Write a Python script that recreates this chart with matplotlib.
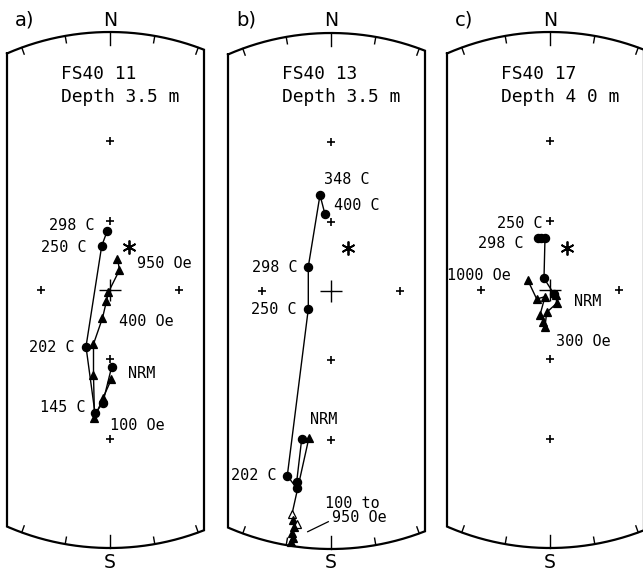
import numpy as np
import matplotlib
matplotlib.use("Agg")
import matplotlib.pyplot as plt

W, H = 643, 575
R = 258.0          # radius of the primitive circle (stereonet units = px)
STRIP = (-103, 94) # visible strip of the net

panel_letters = ["a)", "b)", "c)"]
site_names = ["FS40 11", "FS40 13", "FS40 17"]
depth_texts = ["Depth 3.5 m", "Depth 3.5 m", "Depth 4 0 m"]
centers_x = [110, 331, 550]
centers_y = [290, 291, 290]

# ---- panel a (stereonet east / north coordinates) ----
a_th_x = [1.7, -7.3, -15, -24, -8.3, -2.7]
a_th_y = [-76.7, -113.3, -123.3, -56.7, 44, 59.3]
a_af_x = [1.5, -7, -15.5, -16.5, -16.5, -7.5, -3.5, -1.5, 9.5, 7.5]
a_af_y = [-89, -108, -128, -85, -54, -28, -11, -2, 20, 31.5]
a_af_fill = [1] * 10
a_labels = ["298 C", "250 C", "950 Oe", "400 Oe", "202 C", "NRM", "145 C", "100 Oe"]
a_lab_x = [-15, -23, 27, 9, -35, 18, -24, 0]
a_lab_y = [65, 42, 27, -32, -57, -83, -117, -136]
a_lab_ha = ["right", "right", "left", "left", "right", "left", "right", "left"]

# ---- panel b ----
b_th_x = [-29.3, -34.3, -34.3, -43.7, -22.7, -22.7, -11, -6]
b_th_y = [-148, -190.7, -197.3, -184.7, -18, 24.3, 96, 76.7]
b_af_x = [-22, -39, -38, -34, -37, -39, -38, -40]
b_af_y = [-146.5, -223, -229, -233, -236, -242, -247, -251]
b_af_fill = [1, 0, 1, 0, 1, 1, 1, 1]
b_labels = ["348 C", "400 C", "298 C", "250 C", "NRM", "202 C", "100 to", "950 Oe"]
b_lab_x = [-7, 3, -33, -34, -21, -54, -6, 1]
b_lab_y = [111, 86, 24, -19, -128, -184, -212, -227]
b_lab_ha = ["left", "left", "right", "right", "left", "right", "left", "left"]

# ---- panel c ----
c_th_x = [4, -6, -5, -9, -12]
c_th_y = [-4, 11.7, 52.5, 52.5, 52.5]
c_af_x = [6, 6.7, -3.3, -5, -6.7, -10, -5, -13.3, -22.3]
c_af_y = [-5, -13.3, -22.3, -36.7, -31.7, -25, -6.7, -9, 10]
c_af_fill = [1] * 9
c_labels = ["250 C", "298 C", "1000 Oe", "NRM", "300 Oe"]
c_lab_x = [-7, -26, -39, 24, 6]
c_lab_y = [67, 47, 14, -11, -52]
c_lab_ha = ["right", "right", "right", "left", "left"]

# expected (dipole) direction, stereonet coordinates
star_x = [19, 17, 17]
star_y = [43, 43, 42]

panels = [
    (a_th_x, a_th_y, a_af_x, a_af_y, a_af_fill, a_labels, a_lab_x, a_lab_y, a_lab_ha),
    (b_th_x, b_th_y, b_af_x, b_af_y, b_af_fill, b_labels, b_lab_x, b_lab_y, b_lab_ha),
    (c_th_x, c_th_y, c_af_x, c_af_y, c_af_fill, c_labels, c_lab_x, c_lab_y, c_lab_ha),
]


def proj(dec, inc):
    """Stereographic (Wulff) projection."""
    r = R * np.tan(np.radians(90 - inc) / 2)
    return r * np.sin(np.radians(dec)), r * np.cos(np.radians(dec))


MONO = "DejaVu Sans Mono"
fig = plt.figure(figsize=(W / 100, H / 100), dpi=100)
fig.patch.set_facecolor("white")

for i, (thx, thy, afx, afy, aff, labs, lx, ly, lha) in enumerate(panels):
    cx, cy = centers_x[i], centers_y[i]
    ax = fig.add_axes([(cx - 110) / W, 0, 220 / W, 1])
    ax.set_xlim(-110, 110)
    ax.set_ylim(-(H - cy), cy)
    ax.axis("off")
    ax.patch.set_alpha(0)

    # outline: strip of the primitive circle
    x0, x1 = STRIP
    a0, a1 = np.arcsin(x0 / R), np.arcsin(x1 / R)
    t = np.linspace(a0, a1, 80)
    top_x, top_y = R * np.sin(t), R * np.cos(t)
    bx, by = top_x[::-1], -top_y[::-1]
    ox = np.concatenate([top_x, bx, top_x[:1]])
    oy = np.concatenate([top_y, by, top_y[:1]])
    ax.plot(ox, oy, color="black", lw=1.6, solid_joinstyle="miter", clip_on=False)

    # declination ticks
    for d in [-20, -10, 0, 10, 20, 160, 170, 180, 190, 200]:
        L = 13 if d in (0, 180) else 7
        s, c = np.sin(np.radians(d)), np.cos(np.radians(d))
        ax.plot([R * s, (R - L) * s], [R * c, (R - L) * c], color="black", lw=1.0)

    # reference crosses
    for dec, inc in [(0, 60), (90, 60), (180, 60), (270, 60), (0, 30), (180, 30)]:
        px, py = proj(dec, inc)
        ax.plot(px, py, marker="+", ms=6, mew=1.2, color="black", ls="none")
    ax.plot(0, 0, marker="+", ms=16, mew=1.0, color="black", ls="none")

    # expected direction
    ax.plot(star_x[i], star_y[i], marker=(6, 2, 0), ms=10, mew=1.3,
            color="black", ls="none")

    # thermal demagnetization path
    ax.plot(thx, thy, color="black", lw=1.0, marker="o", ms=5.8,
            mfc="black", mec="black", zorder=3)
    # AF demagnetization path
    ax.plot(afx, afy, color="black", lw=1.0, zorder=3)
    for x, y, f in zip(afx, afy, aff):
        ax.plot(x, y, marker="^", ms=6.4, mec="black", mew=0.9,
                mfc="black" if f else "white", ls="none", zorder=4)

    for s, x, y, ha in zip(labs, lx, ly, lha):
        ax.text(x, y, s, ha=ha, va="center", family=MONO, fontsize=10.9,
                color="black", clip_on=False)

    # headers
    ax.text(-49, cy - 74, site_names[i], ha="left", va="center", family=MONO,
            fontsize=12.9, color="black")
    ax.text(-49, cy - 97, depth_texts[i], ha="left", va="center", family=MONO,
            fontsize=12.9, color="black")
    ax.text(0, cy - 20, "N", ha="center", va="center", family="DejaVu Sans",
            fontsize=13.5, color="black")
    ax.text(0, cy - 563, "S", ha="center", va="center", family="DejaVu Sans",
            fontsize=13.5, color="black")
    ax.text(-95, cy - 20, panel_letters[i], ha="left", va="center",
            family="DejaVu Sans", fontsize=14, color="black", clip_on=False)

# panel b leader line for the AF cluster label
axb = fig.axes[1]
axb.plot([-23.3, -2.7], [-240.7, -230.7], color="black", lw=0.9)

fig.savefig("out.png", dpi=100, facecolor="white")
